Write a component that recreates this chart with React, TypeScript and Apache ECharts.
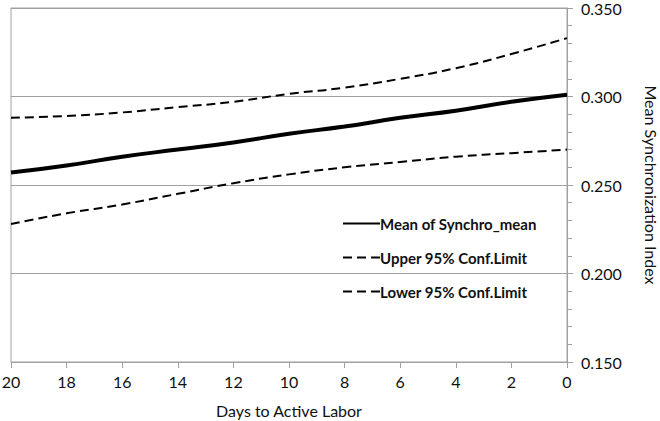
import React, { useEffect, useRef } from "react";
import * as echarts from "echarts";

const days = [20, 18, 16, 14, 12, 10, 8, 6, 4, 2, 0];
const meanVals = [0.257, 0.261, 0.266, 0.270, 0.274, 0.279, 0.283, 0.288, 0.292, 0.297, 0.301];
const upperVals = [0.288, 0.289, 0.291, 0.294, 0.297, 0.3015, 0.305, 0.310, 0.316, 0.324, 0.333];
const lowerVals = [0.228, 0.234, 0.239, 0.245, 0.251, 0.256, 0.260, 0.263, 0.266, 0.268, 0.270];
const seriesNames = ["Mean of Synchro_mean", "Upper 95% Conf.Limit", "Lower 95% Conf.Limit"];
const xTitle = "Days to Active Labor";
const yTitle = "Mean Synchronization Index";

const FONT = "Lato, 'Open Sans', sans-serif";

export default function App() {
  const ref = useRef<HTMLDivElement>(null);
  useEffect(() => {
    document.body.style.margin = "0";
    if (!ref.current) return;
    const chart = echarts.init(ref.current, null, { renderer: "svg" });
    const pair = (vals: number[]) => days.map((d, i) => [d, vals[i]]);
    const gray = "#a0a0a0";
    chart.setOption({
      animation: false,
      backgroundColor: "#ffffff",
      grid: {
        left: 11,
        right: 93,
        top: 8,
        bottom: 59,
        containLabel: false,
        outerBoundsMode: "none",
        show: true,
        borderColor: gray,
        borderWidth: 1,
      },
      legend: {
        left: 337,
        top: 211,
        orient: "vertical",
        itemWidth: 37,
        itemHeight: 14,
        itemGap: 19,
        data: seriesNames,
        itemStyle: { color: "transparent", borderColor: "transparent", borderWidth: 0, opacity: 0 },
        textStyle: {
          fontFamily: FONT,
          fontWeight: "bold",
          fontSize: 15,
          color: "#111",
          padding: [0, 0, 0, -5],
        },
      },
      xAxis: {
        type: "value",
        min: 0,
        max: 20,
        interval: 2,
        inverse: true,
        name: xTitle,
        nameLocation: "middle",
        nameGap: 40,
        nameTextStyle: { fontFamily: FONT, fontSize: 16, color: "#111" },
        axisLine: { show: true, lineStyle: { color: gray } },
        axisTick: { show: true, inside: false, length: 6, lineStyle: { color: gray } },
        axisLabel: { fontFamily: FONT, fontSize: 16, color: "#111", margin: 11 },
        splitLine: { show: false },
      },
      yAxis: {
        type: "value",
        position: "right",
        min: 0.15,
        max: 0.35,
        interval: 0.05,
        name: yTitle,
        nameLocation: "middle",
        nameRotate: -90,
        nameGap: 76,
        nameTextStyle: { fontFamily: FONT, fontSize: 16, color: "#111" },
        axisLine: { show: true, lineStyle: { color: gray } },
        axisTick: { show: true, inside: false, length: 6, lineStyle: { color: gray } },
        minorTick: { show: true, splitNumber: 5, length: 5, lineStyle: { color: gray } },
        axisLabel: {
          fontFamily: FONT,
          fontSize: 16,
          color: "#111",
          margin: 14,
          formatter: (v: number) => v.toFixed(3),
        },
        splitLine: { show: true, lineStyle: { color: gray, width: 1 } },
      },
      series: [
        {
          name: seriesNames[0],
          type: "line",
          data: pair(meanVals),
          showSymbol: false,
          symbol: "none",
          smooth: true,
          lineStyle: { color: "#000", width: 4 },
          itemStyle: { color: "#000" },
        },
        {
          name: seriesNames[1],
          type: "line",
          data: pair(upperVals),
          showSymbol: false,
          symbol: "none",
          smooth: true,
          lineStyle: { color: "#000", width: 2, type: [9, 5] },
          itemStyle: { color: "#000" },
        },
        {
          name: seriesNames[2],
          type: "line",
          data: pair(lowerVals),
          showSymbol: false,
          symbol: "none",
          smooth: true,
          lineStyle: { color: "#000", width: 2, type: [9, 5] },
          itemStyle: { color: "#000" },
        },
      ],
    });
    return () => chart.dispose();
  }, []);
  return <div ref={ref} style={{ width: 660, height: 421 }} />;
}
